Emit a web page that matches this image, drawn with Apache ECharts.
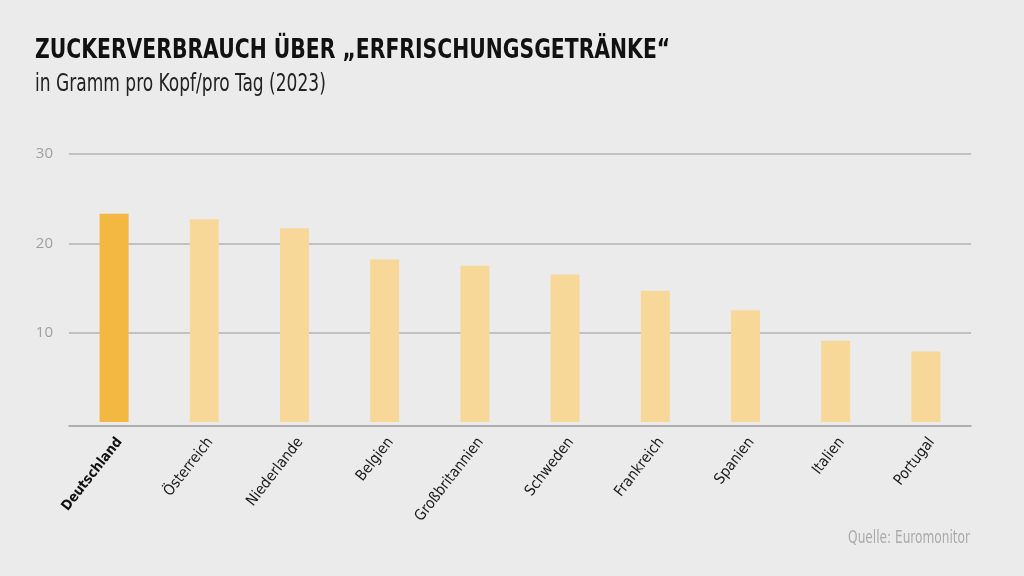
<!DOCTYPE html>
<html>
<head>
<meta charset="utf-8">
<script src="https://cdn.jsdelivr.net/npm/echarts@6/dist/echarts.min.js"></script>
<style>
html,body{margin:0;padding:0;background:#ebebeb;}
#c{width:1024px;height:576px;}
</style>
</head>
<body>
<div id="c"></div>
<script>
const categories = ['Deutschland','Österreich','Niederlande','Belgien','Großbritannien','Schweden','Frankreich','Spanien','Italien','Portugal'];
const values = [23.3, 22.7, 21.7, 18.2, 17.5, 16.5, 14.7, 12.5, 9.1, 7.9];
const highlighted = 'Deutschland';
const yTicks = [0, 10, 20, 30];
const titleText = 'ZUCKERVERBRAUCH ÜBER „ERFRISCHUNGSGETRÄNKE“';
const subtitleText = 'in Gramm pro Kopf/pro Tag (2023)';
const sourceText = 'Quelle: Euromonitor';

const FONT = '"DejaVu Sans Condensed", "Liberation Sans Narrow", sans-serif';
const chart = echarts.init(document.getElementById('c'));
chart.setOption({
  backgroundColor: '#ebebeb',
  animation: false,
  textStyle: { fontFamily: FONT },
  graphic: [
    { type: 'text', x: 35, y: 51, scaleX: 0.838, scaleY: 1,
      style: { text: titleText, font: 'bold 27px ' + FONT, fill: '#111', align: 'left', verticalAlign: 'middle' } },
    { type: 'text', x: 35, y: 84.5, scaleX: 0.79, scaleY: 1,
      style: { text: subtitleText, font: 'normal 24px ' + FONT, fill: '#222', align: 'left', verticalAlign: 'middle' } },
    { type: 'text', x: 970, y: 538, scaleX: 0.75, scaleY: 1,
      style: { text: sourceText, font: 'normal 18px ' + FONT, fill: '#aaaaaa', align: 'right', verticalAlign: 'middle' } }
  ],
  grid: { left: 69, right: 53, top: 154, bottom: 154, containLabel: false },
  xAxis: {
    type: 'category',
    data: categories,
    offset: 4,
    axisLine: { show: true, onZero: false, lineStyle: { color: '#9a9a9a', width: 1.5 } },
    axisTick: { show: false },
    axisLabel: {
      rotate: 52, margin: 9, fontSize: 15, color: '#1a1a1a', fontFamily: FONT,
      interval: 0, verticalAlign: 'top',
      formatter: v => v === highlighted ? '{b|' + v + '}' : v,
      rich: { b: { fontWeight: 'bold', fontSize: 14, color: '#111', fontFamily: FONT, verticalAlign: 'top' } }
    }
  },
  yAxis: {
    type: 'value',
    min: yTicks[0], max: yTicks[yTicks.length - 1], interval: 10,
    axisLine: { show: false },
    axisTick: { show: false },
    axisLabel: {
      margin: 16, fontSize: 15, color: '#a0a0a0', fontFamily: '"Open Sans", sans-serif',
      formatter: v => v === 0 ? '' : String(v)
    },
    splitLine: { show: true, showMinLine: false, lineStyle: { color: '#b3b3b3', width: 1.5 } }
  },
  series: [{
    type: 'bar',
    barWidth: 29,
    data: values.map((v, i) => ({
      value: v,
      itemStyle: { color: categories[i] === highlighted ? '#f2b842' : '#f8d899' }
    }))
  }]
});
</script>
</body>
</html>
